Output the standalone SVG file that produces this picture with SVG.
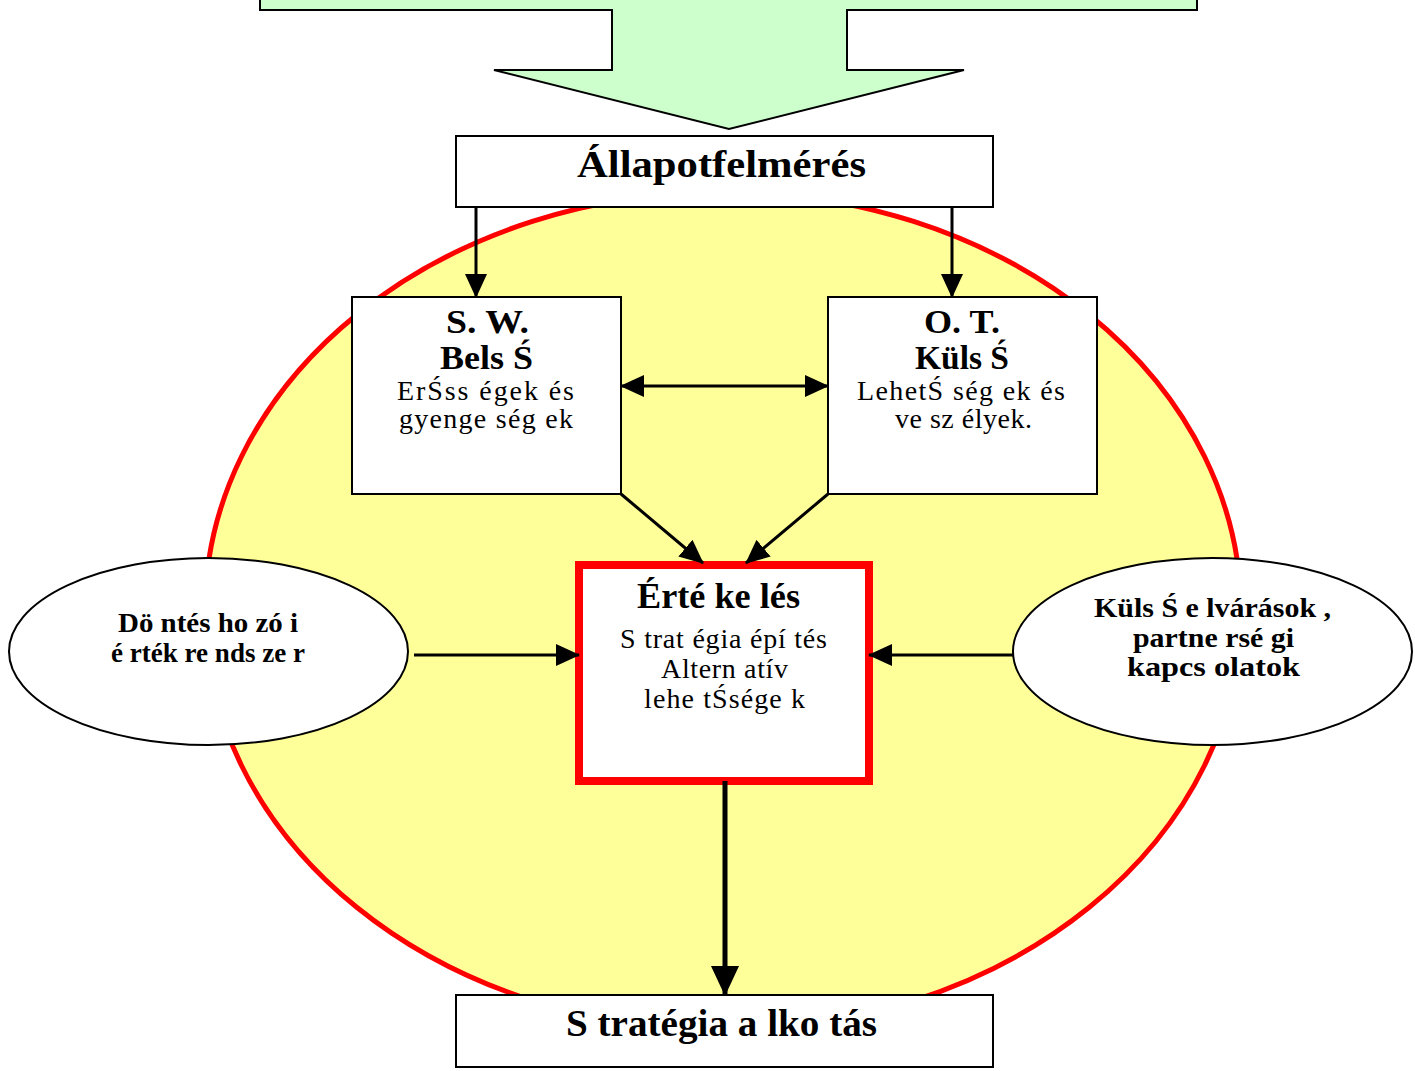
<svg xmlns="http://www.w3.org/2000/svg" width="1415" height="1071" viewBox="0 0 1415 1071">
<style>
.box{fill:#fff;stroke:#000;stroke-width:2}
.ell{fill:#fff;stroke:#000;stroke-width:2}
.b{font-family:"Liberation Serif","Times New Roman",serif;font-weight:bold;fill:#000}
.r{font-family:"Liberation Serif","Times New Roman",serif;fill:#000}
.c{stroke:#000;stroke-width:3;fill:none}
</style>
<defs>
<marker id="ah" markerUnits="userSpaceOnUse" markerWidth="24" markerHeight="22" refX="23" refY="11" orient="auto-start-reverse"><path d="M0,0 L24,11 L0,22 z" fill="#000"/></marker>
<marker id="ahb" markerUnits="userSpaceOnUse" markerWidth="30" markerHeight="30" refX="29" refY="15" orient="auto"><path d="M0,1 L30,15 L0,29 z" fill="#000"/></marker>
</defs>
<rect width="1415" height="1071" fill="#fff"/>
<g id="bigarrow"><polygon points="260,-5 1197,-5 1197,10 847,10 847,70 964,70 729,129 494,70 612,70 612,10 260,10" fill="#CCFFCC" stroke="#000" stroke-width="2"/></g>
<g id="circle"><ellipse cx="723" cy="611" rx="518" ry="419" fill="#FFFF99" stroke="#FF0000" stroke-width="5"/></g>
<g id="allapot"><rect class="box" x="456" y="136" width="537" height="71"/><text class="b" x="577" y="177" font-size="38" textLength="289" lengthAdjust="spacingAndGlyphs">Állapotfelmérés</text></g>
<g id="sw"><rect class="box" x="352" y="297" width="269" height="197"/>
<text class="b" x="446" y="333" font-size="34" textLength="83" lengthAdjust="spacingAndGlyphs">S. W.</text>
<text class="b" x="440" y="369" font-size="34" textLength="93" lengthAdjust="spacingAndGlyphs">Bels Ś</text>
<text class="r" x="397" y="400" font-size="28" textLength="177" lengthAdjust="spacing">ErŚss égek és</text>
<text class="r" x="399" y="428" font-size="28" textLength="174" lengthAdjust="spacing">gyenge ség ek</text></g>
<g id="ot"><rect class="box" x="828" y="297" width="269" height="197"/>
<text class="b" x="924" y="333" font-size="34" textLength="76" lengthAdjust="spacingAndGlyphs">O. T.</text>
<text class="b" x="915" y="369" font-size="34" textLength="94" lengthAdjust="spacingAndGlyphs">Küls Ś</text>
<text class="r" x="857" y="400" font-size="28" textLength="208" lengthAdjust="spacing">LehetŚ ség ek és</text>
<text class="r" x="895" y="428" font-size="28" textLength="137" lengthAdjust="spacing">ve sz élyek.</text></g>
<g id="ertekeles"><rect x="579" y="565" width="290" height="216" fill="#fff" stroke="#FF0000" stroke-width="8"/>
<text class="b" x="637" y="608" font-size="36" textLength="163" lengthAdjust="spacingAndGlyphs">Érté ke lés</text>
<text class="r" x="620" y="648" font-size="28" textLength="207" lengthAdjust="spacing">S trat égia épí tés</text>
<text class="r" x="661" y="678" font-size="28" textLength="127" lengthAdjust="spacing">Altern atív</text>
<text class="r" x="644" y="708" font-size="28" textLength="161" lengthAdjust="spacing">lehe tŚsége k</text></g>
<g id="dontes"><ellipse class="ell" cx="208.5" cy="651.5" rx="199.5" ry="93.5"/>
<text class="b" x="118" y="632" font-size="28" textLength="180" lengthAdjust="spacingAndGlyphs">Dö ntés ho zó i</text>
<text class="b" x="111" y="662" font-size="28" textLength="194" lengthAdjust="spacingAndGlyphs">é rték re nds ze r</text></g>
<g id="kulso"><ellipse class="ell" cx="1212.5" cy="651.5" rx="199.5" ry="93.5"/>
<text class="b" x="1094" y="617" font-size="28" textLength="237" lengthAdjust="spacingAndGlyphs">Küls Ś e lvárások ,</text>
<text class="b" x="1133" y="647" font-size="28" textLength="161" lengthAdjust="spacingAndGlyphs">partne rsé gi</text>
<text class="b" x="1127" y="676" font-size="28" textLength="173" lengthAdjust="spacingAndGlyphs">kapcs olatok</text></g>
<g id="strategia"><rect class="box" x="456" y="995" width="537" height="72"/><text class="b" x="566" y="1036" font-size="38" textLength="311" lengthAdjust="spacingAndGlyphs">S tratégia a lko tás</text></g>
<g id="connectors">
<line class="c" x1="476" y1="207" x2="476" y2="297" marker-end="url(#ah)"/>
<line class="c" x1="952" y1="207" x2="952" y2="297" marker-end="url(#ah)"/>
<line class="c" x1="621" y1="386" x2="828" y2="386" marker-start="url(#ah)" marker-end="url(#ah)"/>
<line class="c" x1="621" y1="494" x2="703" y2="563" marker-end="url(#ah)"/>
<line class="c" x1="828" y1="494" x2="746" y2="563" marker-end="url(#ah)"/>
<line class="c" x1="414" y1="655" x2="579" y2="655" marker-end="url(#ah)"/>
<line class="c" x1="1013" y1="655" x2="869" y2="655" marker-end="url(#ah)"/>
<line x1="725" y1="781" x2="725" y2="995" stroke="#000" stroke-width="5" marker-end="url(#ahb)"/>
</g>
</svg>
